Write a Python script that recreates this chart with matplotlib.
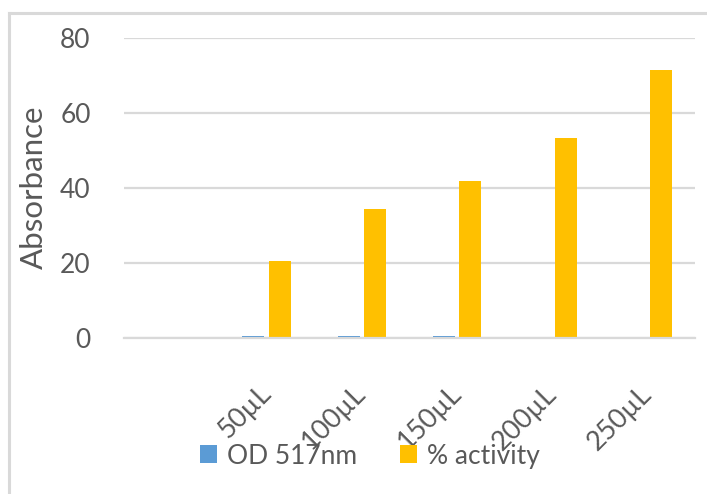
import matplotlib
matplotlib.use("Agg")
import matplotlib.pyplot as plt
import matplotlib.transforms as mtransforms
import numpy as np
from matplotlib.lines import Line2D

plt.rcParams['font.family'] = ['Lato', 'DejaVu Sans']

categories = ['', '50µL', '100µL', '150µL', '200µL', '250µL']
od_517 = [0, 0.6, 0.6, 0.55, 0, 0]
activity = [0, 20.6, 34.3, 42.0, 53.3, 71.6]

text_col = '#595959'
grid_col = '#d9d9d9'
W, H = 707, 494

fig = plt.figure(figsize=(W / 100, H / 100), dpi=100)
ax = fig.add_axes([124 / W, 1 - 338 / H, (695 - 124) / W, 300 / H])

x = np.arange(len(categories))
bw = 0.23
ax.bar(x - 0.14, od_517, bw, color='#5B9BD5', label='OD 517nm', zorder=3)
ax.bar(x + 0.14, activity, bw, color='#FFC000', label='% activity', zorder=3)

ax.set_xlim(-0.5, len(categories) - 0.5)
ax.set_ylim(0, 80)
ax.set_yticks([0, 20, 40, 60, 80])
ax.yaxis.grid(True, color=grid_col, lw=1.6, zorder=0)
for s in ['top', 'right', 'left']:
    ax.spines[s].set_visible(False)
ax.spines['bottom'].set_color(grid_col)
ax.spines['bottom'].set_linewidth(1.6)
ax.spines['bottom'].set_zorder(4)

ax.set_xticks(x)
ax.set_xticklabels(categories, rotation=45, ha='right', va='top')
ax.tick_params(axis='x', length=0, pad=31, labelsize=19.5, labelcolor=text_col)
ax.tick_params(axis='y', length=0, pad=24, labelsize=19, labelcolor=text_col)
# nudge the slanted labels a little to the right of their ticks
shift = mtransforms.ScaledTranslation(9 / 100, 0, fig.dpi_scale_trans)
for lbl in ax.get_xticklabels():
    lbl.set_transform(lbl.get_transform() + shift)

fig.text(34 / W, 1 - 187 / H, 'Absorbance', rotation=90, ha='center',
         va='center', fontsize=22.5, color=text_col)

fig.legend(loc='center', bbox_to_anchor=(370 / W, 1 - 456 / H), ncol=2,
           frameon=False, fontsize=19, labelcolor=text_col,
           handlelength=0.65, handleheight=0.65, handletextpad=0.4,
           columnspacing=1.6)

# chart area border (top and left edges)
fig.add_artist(Line2D([9 / W, 9 / W], [0, 1 - 13 / H], color=grid_col, lw=2.2))
fig.add_artist(Line2D([9 / W, 1], [1 - 13 / H, 1 - 13 / H], color=grid_col, lw=2.2))

fig.savefig('out.png', dpi=100)
